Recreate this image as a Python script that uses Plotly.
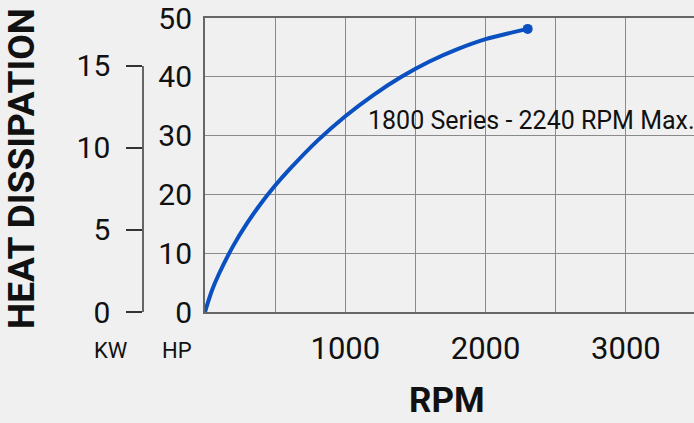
import plotly.graph_objects as go

# Data
rpm = [0, 50, 100, 200, 300, 400, 500, 600, 800, 1000, 1200, 1400, 1600, 1800, 2000, 2200, 2300]
hp = [0, 3.7, 6.5, 11.2, 15.1, 18.5, 21.5, 24.2, 29.1, 33.3, 36.9, 40.0, 42.6, 44.7, 46.4, 47.6, 48.15]

x_tickvals = [0, 500, 1000, 1500, 2000, 2500, 3000, 3500]
x_ticktext = ["", "", "1000", "", "2000", "", "3000", ""]
hp_tickvals = [0, 10, 20, 30, 40, 50]
kw_tickvals = [0, 5, 10, 15]

W, H = 694, 423
L_PX, R_PX = 205, 694
TOP_PX, BOT_PX = 17.7, 312.3

def px_x(p):
    return p / W

def px_y(p):
    return (BOT_PX - p) / (BOT_PX - TOP_PX)

BG = "#f0f0f0"
LINE_BLUE = "#0a50c0"
FONT = "Roboto"
TXT = "#111111"

fig = go.Figure()
fig.add_trace(go.Scatter(x=rpm, y=hp, mode="lines",
                         line=dict(color=LINE_BLUE, width=4, shape="spline"),
                         hoverinfo="skip", showlegend=False))
fig.add_trace(go.Scatter(x=rpm[-1:], y=hp[-1:], mode="markers",
                         marker=dict(color=LINE_BLUE, size=10),
                         hoverinfo="skip", showlegend=False))
# empty trace that carries the KW axis (its own small subplot left of the chart)
fig.add_trace(go.Scatter(x=[None], y=[None], xaxis="x2", yaxis="y2",
                         showlegend=False, hoverinfo="skip"))

fig.update_layout(
    template="none",
    width=W, height=H,
    margin=dict(l=0, r=0, t=TOP_PX, b=H - BOT_PX, pad=0),
    paper_bgcolor=BG, plot_bgcolor="rgba(0,0,0,0)",
    font=dict(family=FONT, color=TXT),
    showlegend=False,
    xaxis=dict(
        domain=[L_PX / W, 1],
        range=[0, (R_PX - L_PX) / 0.1403],
        tickvals=x_tickvals, ticktext=x_ticktext,
        ticks="", showgrid=True, gridcolor="#8a8a8a", gridwidth=1,
        showline=True, linecolor="#666666", linewidth=2, mirror=True,
        zeroline=False, automargin=False,
        tickfont=dict(size=31, family=FONT, color=TXT),
        ticklabelstandoff=8,
    ),
    yaxis=dict(
        range=[0, 50], domain=[0, 1],
        tickvals=hp_tickvals,
        ticks="", showgrid=True, gridcolor="#8a8a8a", gridwidth=1,
        showline=True, linecolor="#666666", linewidth=2,
        zeroline=False, automargin=False,
        tickfont=dict(size=30, family=FONT, color=TXT),
        ticklabelstandoff=5,
    ),
    xaxis2=dict(
        domain=[144 / W, 150 / W], anchor="y2", visible=False,
        showgrid=False, zeroline=False, range=[0, 1],
    ),
    yaxis2=dict(
        range=[0, 15], domain=[0, 247 / 294.6],
        anchor="x2", side="left",
        tickvals=kw_tickvals,
        ticks="outside", ticklen=16, tickwidth=1.5, tickcolor="#333333",
        showgrid=False, showline=True, linecolor="#666666", linewidth=1.5,
        zeroline=False, automargin=False,
        tickfont=dict(size=30, family=FONT, color=TXT),
        ticklabelstandoff=10,
    ),
    annotations=[
        dict(text="1800 Series - 2240 RPM Max.", x=(366 - L_PX) / 0.1403, y=(BOT_PX - 120) / 5.892,
             xref="x", yref="y", xanchor="left", yanchor="middle", showarrow=False,
             font=dict(size=25, family=FONT, color=TXT)),
        dict(text="KW", x=px_x(111), y=px_y(351), xref="paper", yref="paper",
             xanchor="center", yanchor="middle", showarrow=False,
             font=dict(size=22, family=FONT, color=TXT)),
        dict(text="HP", x=px_x(177), y=px_y(351), xref="paper", yref="paper",
             xanchor="center", yanchor="middle", showarrow=False,
             font=dict(size=22, family=FONT, color=TXT)),
        dict(text="<b>RPM</b>", x=px_x(447), y=px_y(422.5), xref="paper", yref="paper",
             xanchor="center", yanchor="bottom", showarrow=False, borderpad=0,
             font=dict(size=35, family=FONT, color=TXT)),
        dict(text="<b>HEAT DISSIPATION</b>", x=px_x(22), y=px_y(169), xref="paper", yref="paper",
             xanchor="center", yanchor="middle", textangle=-90, showarrow=False,
             font=dict(size=37, family=FONT, color=TXT)),
    ],
)

fig.write_html("out.html",
               config={"displayModeBar": False},
               post_script="document.body.style.margin='0';document.body.style.overflow='hidden';")
